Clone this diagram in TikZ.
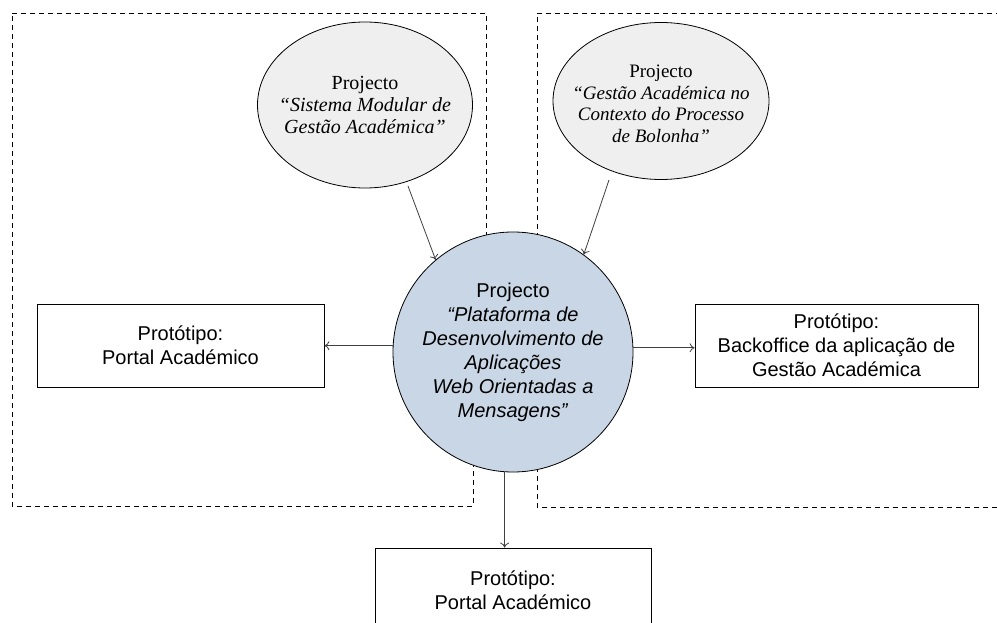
\documentclass[tikz,border=0pt]{standalone}
\usepackage{fontspec}
\setmainfont{Liberation Serif}
\setsansfont{Liberation Sans}
\usetikzlibrary{shapes.geometric,arrows.meta}
\definecolor{ellfill}{HTML}{EFEFEF}
\definecolor{circfill}{HTML}{C9D6E5}
\tikzset{
  region/.style={draw=black, line width=0.9pt, dash pattern=on 5pt off 4pt},
  project/.style={ellipse, draw=black, line width=0.8pt, fill=ellfill, inner sep=0pt},
  projtext/.style={align=center, inner sep=0pt, font=\fontsize{20}{21.8}\selectfont\rmfamily},
  central/.style={circle, draw=black, line width=0.8pt, fill=circfill, inner sep=0pt,
    minimum size=240pt, align=center, font=\fontsize{20}{24}\selectfont\sffamily},
  proto/.style={rectangle, draw=black, line width=0.8pt, fill=white, inner sep=0pt,
    align=center, font=\fontsize{20}{24}\selectfont\sffamily},
  link/.style={draw=black!75, line width=0.8pt, -{To[length=5pt,width=9pt]}}
}
\begin{document}
\begin{tikzpicture}[x=1pt, y=-1pt]
\clip (0,0) rectangle (997,623);
\fill[white] (0,0) rectangle (997,623);

% dashed regions behind the central project
\draw[region] (12,13) -- (486,13) -- (486,352) -- (473,352) -- (473,506) -- (12,506) -- cycle;
\draw[region] (1010,13) -- (537,13) -- (537,507) -- (1010,507);

% project nodes
\node[project, minimum width=215pt, minimum height=166pt] (pl) at (365,105) {};
\node[projtext] (plt) at (pl.center)
  {Projecto\\ \textit{``Sistema Modular de}\\ \textit{Gestão Académica''}};
\node[project, minimum width=216pt, minimum height=157pt] (pr) at (661,101) {};
\node[projtext, font=\fontsize{19}{21.6}\selectfont\rmfamily] (prt) at (661,104)
  {Projecto\\ \textit{``Gestão Académica no}\\ \textit{Contexto do Processo}\\ \textit{de Bolonha''}};
\node[central] (pc) at (513,352)
  {Projecto\\ \textit{“Plataforma de}\\ \textit{Desenvolvimento de}\\ \textit{Aplicações}\\ \textit{Web Orientadas a}\\ \textit{Mensagens”}};

% prototypes
\node[proto, minimum width=287pt, minimum height=83pt] (bl) at (180.5,345.5)
  {Protótipo:\\ Portal Académico};
\node[proto, minimum width=283pt, minimum height=83pt] (br) at (836.5,345.5)
  {Protótipo:\\ Backoffice da aplicação de\\ Gestão Académica};
\node[proto, minimum width=276pt, minimum height=90pt] (bb) at (513,593) {};
\node[font=\fontsize{20}{24}\selectfont\sffamily, align=center] (bbt) at (513,590)
  {Protótipo:\\ Portal Académico};

% connectors
\coordinate (pls) at (408,186);
\coordinate (prs) at (609,180);
\draw[link] (pls) -- (pc.130.4);
\draw[link] (prs) -- (pc.54.2);
\draw[link] (pc.177.6) -- (pc.177.6 -| bl.east);
\draw[link] (pc.2.4) -- (pc.2.4 -| br.west);
\draw[link] (pc.266.7) -- (pc.266.7 |- bb.north);
\end{tikzpicture}
\end{document}
